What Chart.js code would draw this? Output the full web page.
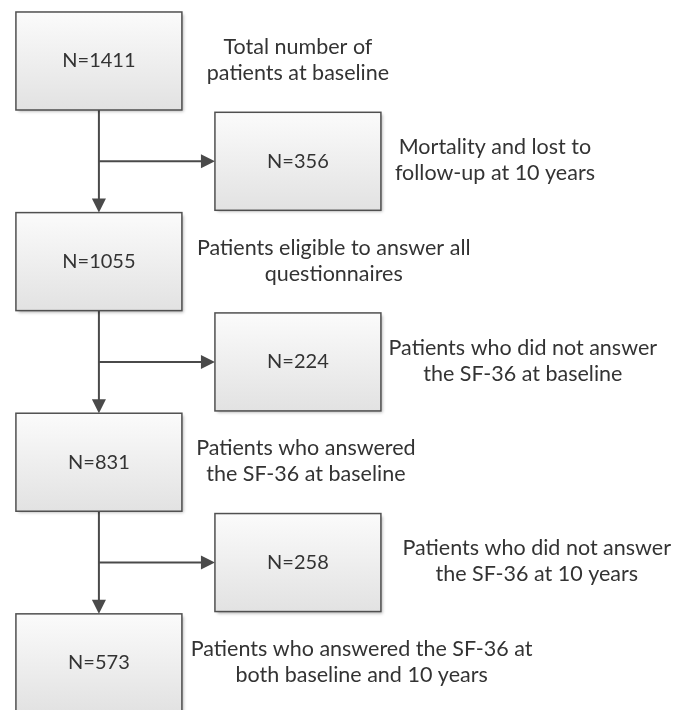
<!DOCTYPE html>
<html>
<head>
<meta charset="utf-8">
<script src="https://cdn.jsdelivr.net/npm/chart.js@4.4.0/dist/chart.umd.min.js"></script>
<style>
  html, body { margin: 0; padding: 0; background: #fff; }
  #wrap { width: 686px; height: 710px; }
</style>
</head>
<body>
<div id="wrap"><canvas id="flowChart"></canvas></div>
<script>
// main column: patients remaining at each step
const mainCounts = [1411, 1055, 831, 573];
const mainNotes = [
    ['Total number of', 'patients at baseline'],
    ['Patients eligible to answer all', 'questionnaires'],
    ['Patients who answered', 'the SF-36 at baseline'],
    ['Patients who answered the SF-36 at', 'both baseline and 10 years']
];

// side column: patients dropped between steps
const dropCounts = [356, 224, 258];
const dropNotes = [
    ['Mortality and lost to', 'follow-up at 10 years'],
    ['Patients who did not answer', 'the SF-36 at baseline'],
    ['Patients who did not answer', 'the SF-36 at 10 years']
];

// layout (axis units: 1 column / 1 row)
const BOX_W = 0.834;
const BOX_H = 0.977;
const mainNoteX = [1.0, 1.18, 1.04, 1.32];
const dropNoteX = [1.99, 2.13, 2.2];
const LINE_GAP = 26;
const INK = '#333333';
const N_FONT = '20px Lato, "Open Sans", sans-serif';
const NOTE_FONT = '21.5px Lato, "Open Sans", sans-serif';

const mainPoints = mainCounts.map((n, i) => ({ x: 0, y: 2 * i, n: n, note: mainNotes[i], noteX: mainNoteX[i] }));
const dropPoints = dropCounts.map((n, i) => ({ x: 1, y: 2 * i + 1, n: n, note: dropNotes[i], noteX: dropNoteX[i] }));

function arrowHead(ctx, tx, ty, dir) {
    const len = 14, half = 7;
    ctx.beginPath();
    if (dir === 'down') {
        ctx.moveTo(tx, ty);
        ctx.lineTo(tx - half, ty - len);
        ctx.lineTo(tx + half, ty - len);
    } else {
        ctx.moveTo(tx, ty);
        ctx.lineTo(tx - len, ty - half);
        ctx.lineTo(tx - len, ty + half);
    }
    ctx.closePath();
    ctx.fill();
}

const flowPlugin = {
    id: 'flowBoxes',
    afterDatasetsDraw(chart) {
        const { ctx, scales: { x, y } } = chart;
        const bw = x.getPixelForValue(BOX_W) - x.getPixelForValue(0);
        const bh = y.getPixelForValue(BOX_H) - y.getPixelForValue(0);
        const mainMeta = chart.getDatasetMeta(0).data;
        const dropMeta = chart.getDatasetMeta(1).data;

        ctx.save();
        // connectors
        ctx.strokeStyle = '#4a4a4a';
        ctx.fillStyle = '#4a4a4a';
        ctx.lineWidth = 2;
        for (let i = 0; i < mainMeta.length - 1; i++) {
            const a = mainMeta[i], b = mainMeta[i + 1];
            const y0 = a.y + bh / 2, y1 = b.y - bh / 2;
            ctx.beginPath();
            ctx.moveTo(a.x, y0);
            ctx.lineTo(a.x, y1 - 12);
            ctx.stroke();
            arrowHead(ctx, a.x, y1, 'down');
            const d = dropMeta[i];
            if (d) {
                const xe = d.x - bw / 2;
                ctx.beginPath();
                ctx.moveTo(a.x, d.y);
                ctx.lineTo(xe - 12, d.y);
                ctx.stroke();
                arrowHead(ctx, xe, d.y, 'right');
            }
        }

        // boxes and their notes
        const drawBox = (el, pt) => {
            const left = el.x - bw / 2, top = el.y - bh / 2;
            const g = ctx.createLinearGradient(0, top, 0, top + bh);
            g.addColorStop(0, '#fbfbfb');
            g.addColorStop(1, '#e2e2e2');
            ctx.save();
            ctx.shadowColor = 'rgba(0,0,0,0.3)';
            ctx.shadowBlur = 3;
            ctx.shadowOffsetX = 2;
            ctx.shadowOffsetY = 2;
            ctx.fillStyle = g;
            ctx.fillRect(left, top, bw, bh);
            ctx.restore();
            ctx.strokeStyle = '#505050';
            ctx.lineWidth = 1.5;
            ctx.strokeRect(left, top, bw, bh);

            ctx.fillStyle = INK;
            ctx.textAlign = 'center';
            ctx.textBaseline = 'middle';
            ctx.font = N_FONT;
            ctx.fillText('N=' + pt.n, el.x, el.y);

            ctx.font = NOTE_FONT;
            const nx = x.getPixelForValue(pt.noteX);
            pt.note.forEach((line, k) => {
                const off = (k - (pt.note.length - 1) / 2) * LINE_GAP;
                ctx.fillText(line, nx, el.y + off - 1);
            });
        };
        mainMeta.forEach((el, i) => drawBox(el, mainPoints[i]));
        dropMeta.forEach((el, i) => drawBox(el, dropPoints[i]));
        ctx.restore();
    }
};

new Chart(document.getElementById('flowChart'), {
    type: 'scatter',
    data: {
        datasets: [
            { label: 'Remaining', data: mainPoints, pointRadius: 0 },
            { label: 'Excluded', data: dropPoints, pointRadius: 0 }
        ]
    },
    options: {
        responsive: true,
        maintainAspectRatio: false,
        animation: false,
        layout: { padding: 0 },
        plugins: {
            legend: { display: false },
            tooltip: { enabled: false }
        },
        scales: {
            x: { type: 'linear', min: -0.497, max: 2.95, display: false },
            y: { type: 'linear', min: -0.608, max: 6.47, reverse: true, display: false }
        }
    },
    plugins: [flowPlugin]
});
</script>
</body>
</html>
